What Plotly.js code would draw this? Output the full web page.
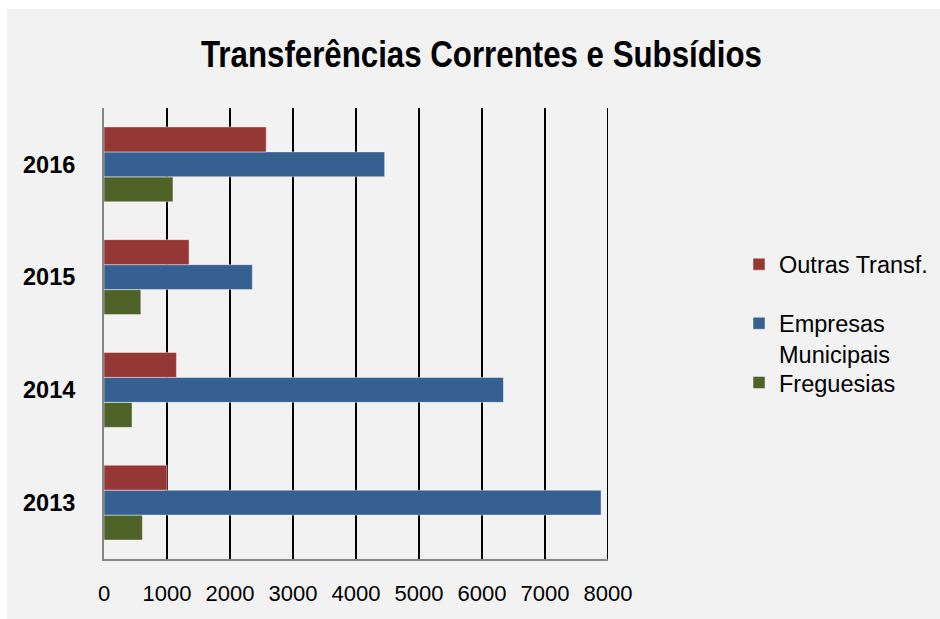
<!DOCTYPE html>
<html>
<head>
<meta charset="utf-8">
<script src="https://cdn.plot.ly/plotly-3.0.1.min.js"></script>
<style>
  html, body { margin: 0; padding: 0; background: #ffffff; width: 940px; height: 619px; overflow: hidden; }
  #chart { position: absolute; left: 7px; top: 9px; width: 933px; height: 610px; }
</style>
</head>
<body>
<div id="chart"></div>
<script>
const years = ['2013', '2014', '2015', '2016'];
const outrasTransf = [1000, 1150, 1350, 2575];
const empresasMunicipais = [7890, 6340, 2355, 4455];
const freguesias = [610, 445, 585, 1095];
const xTicks = [0, 1000, 2000, 3000, 4000, 5000, 6000, 7000, 8000];

const W = 933, H = 610;
const barLine = { color: 'rgba(255,255,255,0.45)', width: 1 };

const traces = [
  { type: 'bar', orientation: 'h', name: 'Freguesias', y: years, x: freguesias,
    marker: { color: '#4f6228', line: barLine }, legend: 'legend3' },
  { type: 'bar', orientation: 'h', name: 'Empresas<br>Municipais', y: years, x: empresasMunicipais,
    marker: { color: '#366092', line: barLine }, legend: 'legend2' },
  { type: 'bar', orientation: 'h', name: 'Outras Transf.', y: years, x: outrasTransf,
    marker: { color: '#953735', line: barLine }, legend: 'legend' }
];

const legFont = { family: 'Liberation Sans, Arial, sans-serif', size: 23.5, color: '#000000' };
function leg(topPx) {
  return { xref: 'container', yref: 'container', x: 732 / W, y: 1 - topPx / H,
    xanchor: 'left', yanchor: 'top', bgcolor: 'rgba(0,0,0,0)', borderwidth: 0,
    font: legFont, valign: 'top' };
}

const xMax = xTicks[xTicks.length - 1];

const layout = {
  width: W, height: H,
  paper_bgcolor: '#f2f2f2', plot_bgcolor: '#f2f2f2',
  margin: { l: 97, r: 332, t: 99, b: 60 },
  barmode: 'group', bargap: 0.335, bargroupgap: 0,
  title: {
    text: 'Transferências Correntes e Subsídios',
    font: { family: 'Liberation Sans, Arial, sans-serif', size: 37, color: '#000000', weight: 'bold' },
    xref: 'container', yref: 'container', x: 474.5 / W, xanchor: 'center',
    y: 1 - 45 / H, yanchor: 'middle'
  },
  xaxis: {
    range: [0, xMax], tickvals: xTicks, ticktext: xTicks.map(String),
    showgrid: true, gridcolor: '#000000', gridwidth: 2,
    zeroline: false, showline: true, linecolor: '#868686', linewidth: 2,
    ticks: '', ticklabelstandoff: 14,
    tickfont: { family: 'Liberation Sans, Arial, sans-serif', size: 22, color: '#000000' },
    fixedrange: true
  },
  yaxis: {
    type: 'category', categoryorder: 'array', categoryarray: years,
    showgrid: false, zeroline: false, showline: true, linecolor: '#868686', linewidth: 2,
    ticks: '', ticklabelstandoff: 22,
    tickfont: { family: 'Liberation Sans, Arial, sans-serif', size: 23.5, color: '#000000', weight: 'bold' },
    fixedrange: true
  },
  shapes: [
    // last major gridline (at the right edge of the plot area), which Plotly drops at the range end
    { type: 'line', layer: 'below', xref: 'x', yref: 'paper', x0: xMax, x1: xMax, y0: 0, y1: 1,
      line: { color: '#000000', width: 2 } }
  ],
  showlegend: true,
  legend: leg(233.4),
  legend2: leg(292.5),
  legend3: leg(351.7)
};

Plotly.newPlot('chart', traces, layout, { displayModeBar: false, staticPlot: true }).then(function () {
  // condensed title look (Arial Narrow style) while keeping the text as real text
  const t = document.querySelector('#chart .gtitle');
  if (t) {
    t.setAttribute('textLength', '561');
    t.setAttribute('lengthAdjust', 'spacingAndGlyphs');
  }
});
</script>
</body>
</html>
